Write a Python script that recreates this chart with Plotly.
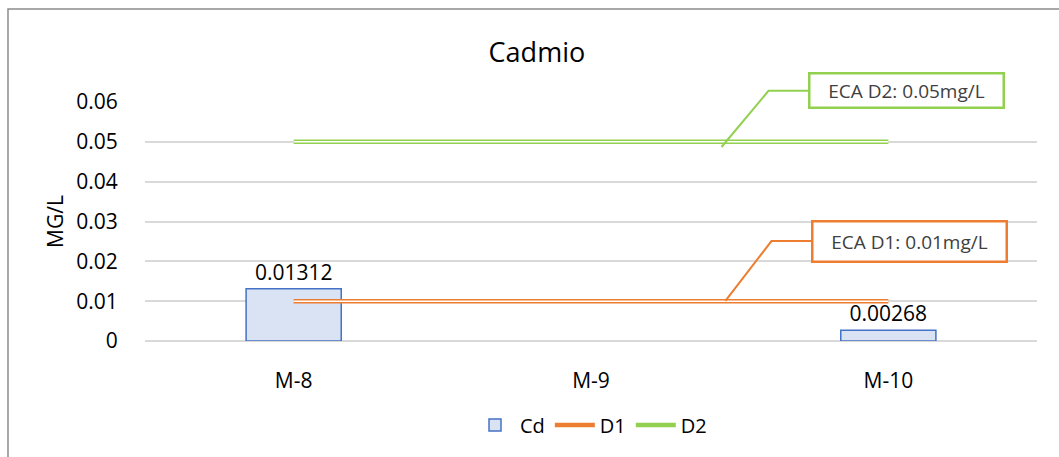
import plotly.graph_objects as go

categories = ["M-8", "M-9", "M-10"]
cd_values = [0.01312, None, 0.00268]
d1_values = [0.01, 0.01, 0.01]
d2_values = [0.05, 0.05, 0.05]
y_ticks = [0, 0.01, 0.02, 0.03, 0.04, 0.05, 0.06]
y_ticktext = ["0", "0.01", "0.02", "0.03", "0.04", "0.05", "0.06"]

FONT = "Open Sans"
ORANGE = "#ED7D31"
GREEN = "#92D050"
YMAX = 0.06

fig = go.Figure()
fig.add_trace(go.Bar(
    x=categories, y=cd_values, name="Cd", width=0.32,
    marker=dict(color="#DAE3F3", line=dict(color="#4472C4", width=1.5)),
    text=["0.01312", "", "0.00268"], textposition="outside",
    textfont=dict(size=21, color="#000000"), cliponaxis=False,
))
for name, vals, col in [("D1", d1_values, ORANGE), ("D2", d2_values, GREEN)]:
    fig.add_trace(go.Scatter(x=categories, y=vals, name=name, mode="lines",
                             line=dict(color=col, width=4.5)))
    fig.add_trace(go.Scatter(x=categories, y=vals, mode="lines", showlegend=False,
                             hoverinfo="skip",
                             line=dict(color="#FFFFFF", width=1.5)))

# Callout annotations (paper y so they are not hidden outside the axis range)
fig.add_annotation(x=2.06, y=0.0628 / YMAX, xref="x", yref="paper", text="ECA D2: 0.05mg/L",
                   xanchor="center", yanchor="middle",
                   showarrow=False, bordercolor=GREEN, borderwidth=2.5, bgcolor="white",
                   width=190, height=30, font=dict(size=19, color="#404040", family=FONT))
fig.add_annotation(x=2.07, y=0.0251 / YMAX, xref="x", yref="paper", text="ECA D1: 0.01mg/L",
                   xanchor="center", yanchor="middle",
                   showarrow=False, bordercolor=ORANGE, borderwidth=2.5, bgcolor="white",
                   width=190, height=36, font=dict(size=19, color="#404040", family=FONT))
fig.add_shape(type="path", xref="x", yref="paper",
              path=f"M 1.731 {0.0628/YMAX} L 1.597 {0.0628/YMAX} L 1.439 {0.0487/YMAX}",
              line=dict(color=GREEN, width=2))
fig.add_shape(type="path", xref="x", yref="paper",
              path=f"M 1.74 {0.0251/YMAX} L 1.607 {0.0251/YMAX} L 1.452 {0.01005/YMAX}",
              line=dict(color=ORANGE, width=2))

# Outer chart border
fig.add_shape(type="rect", xref="paper", yref="paper",
              x0=-0.1536, x1=1.03, y0=-0.6, y1=1.389,
              line=dict(color="#8C8C8C", width=1.5), layer="below")

fig.update_layout(
    width=1059, height=457,
    margin=dict(l=145, r=22, t=102, b=116),
    paper_bgcolor="white", plot_bgcolor="white",
    font=dict(family=FONT, size=20, color="#000000"),
    title=dict(text="Cadmio", x=0.507, xanchor="center", y=0.885, yanchor="middle",
               font=dict(size=27, family=FONT, color="#000000")),
    showlegend=True,
    legend=dict(orientation="h", x=0.5, xanchor="center", y=-0.27, yanchor="top",
                font=dict(size=20), itemwidth=40, tracegroupgap=0),
    xaxis=dict(showgrid=False, showline=False, ticks="outside", ticklen=21,
               tickcolor="rgba(0,0,0,0)", tickfont=dict(size=21),
               range=[-0.5, 2.5]),
    yaxis=dict(range=[0, YMAX], tickvals=y_ticks, ticktext=y_ticktext,
               showgrid=True, gridcolor="#D9D9D9", gridwidth=1.5, zeroline=True,
               zerolinecolor="#D9D9D9", zerolinewidth=1.5,
               tickfont=dict(size=21), ticks="outside", ticklen=22,
               tickcolor="rgba(0,0,0,0)",
               title=dict(text="MG/L", font=dict(size=21), standoff=6)),
)

fig.write_html("out.html", post_script="document.body.style.margin='0px';",
               config={"displayModeBar": False})
